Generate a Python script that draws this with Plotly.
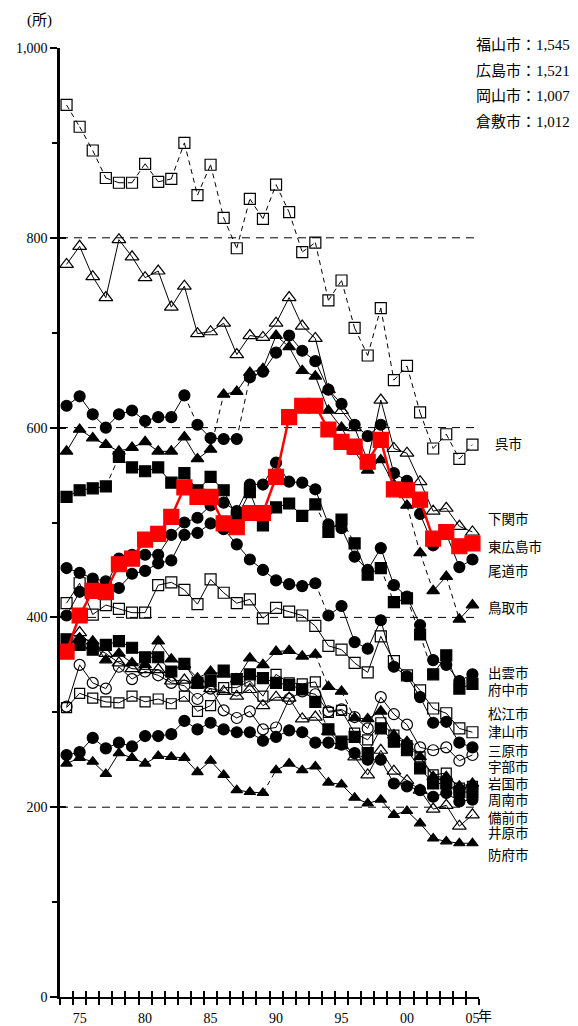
import plotly.graph_objects as go

years = list(range(1974, 2006))

kure = [940, 917, 892, 863, 858, 858, 878, 859, 862, 900, 845, 877, 821, 789, 841, 820,
        856, 827, 785, 795, 734, 755, 705, 676, 726, 650, 665, 616, 578, 593, 567, 582]
shimonoseki = [772, 791, 759, 737, 798, 780, 758, 765, 727, 749, 699, 701, 710, 677, 697, 695,
               710, 737, 707, 694, 640, 618, 600, 565, 629, 578, 573, 543, 512, 515, 496, 490]
higashihiroshima = [364, 402, 428, 427, 456, 462, 482, 488, 506, 537, 527, 527, 499, 495, 510, 510,
                    548, 611, 623, 623, 598, 585, 580, 564, 587, 535, 534, 524, 483, 490, 475, 478]
onomichi = [623, 633, 614, 600, 614, 618, 607, 611, 611, 634, 603, 589, 588, 588, 653, 659,
            679, 697, 681, 670, 640, 625, 603, 591, 603, 552, 544, 509, 476, 488, 453, 461]
tottori = [575, 598, 589, 582, 575, 579, 585, 575, 575, 590, 567, 577, 635, 638, 658, 662,
           697, 685, 660, 654, 618, 600, 575, 555, 566, 540, 518, 468, 428, 443, 398, 413]
fuchu = [527, 534, 536, 538, 569, 558, 554, 558, 542, 552, 534, 548, 534, 505, 532, 497,
         516, 520, 507, 519, 490, 503, 478, 445, 452, 416, 420, 382, 340, 360, 325, 330]
tsuyama = [415, 436, 403, 413, 409, 405, 405, 434, 437, 429, 414, 440, 426, 415, 419, 399,
           410, 406, 402, 391, 370, 366, 352, 342, 380, 354, 339, 323, 304, 299, 283, 279]
mihara = [452, 447, 441, 438, 431, 446, 449, 457, 460, 487, 489, 499, 493, 477, 461, 450,
          439, 435, 433, 436, 402, 412, 374, 367, 397, 348, 338, 316, 289, 290, 268, 263]
izumo = [402, 427, 436, 433, 462, 466, 466, 466, 487, 500, 505, 518, 521, 512, 540, 540,
         563, 543, 542, 535, 498, 494, 464, 450, 473, 434, 422, 392, 355, 350, 333, 340]
shunan = [377, 371, 366, 371, 375, 368, 358, 358, 343, 351, 331, 333, 344, 335, 340, 336,
          331, 329, 324, 311, 282, 269, 274, 257, 283, 269, 260, 241, 225, 225, 216, 216]
iwakuni = [371, 378, 375, 355, 362, 352, 350, 375, 356, 350, 336, 343, 340, 335, 357, 350,
           364, 365, 359, 361, 327, 322, 294, 293, 301, 276, 269, 253, 232, 232, 222, 225]
ube = [306, 350, 331, 325, 348, 335, 343, 339, 331, 328, 314, 325, 302, 294, 301, 282,
       284, 314, 322, 319, 301, 303, 295, 283, 316, 298, 287, 263, 260, 263, 249, 255]
matsue = [305, 320, 315, 311, 310, 317, 311, 314, 309, 317, 301, 307, 326, 326, 333, 317,
          340, 331, 330, 332, 300, 302, 278, 271, 289, 276, 265, 253, 234, 236, 220, 222]
bizen = [372, 384, 370, 362, 352, 346, 345, 345, 333, 334, 329, 325, 322, 317, 324, 307,
         316, 315, 293, 295, 280, 265, 253, 234, 260, 238, 228, 218, 198, 202, 180, 192]
ibara = [255, 258, 273, 262, 268, 264, 275, 275, 277, 291, 282, 289, 282, 279, 279, 270,
         274, 281, 279, 268, 268, 266, 257, 250, 250, 225, 222, 218, 211, 215, 206, 208]
hofu = [246, 252, 248, 235, 257, 252, 246, 254, 253, 252, 237, 249, 234, 218, 216, 215,
        239, 246, 239, 243, 226, 224, 210, 204, 208, 192, 196, 183, 167, 164, 162, 162]

end_labels = ["呉市", "下関市", "東広島市", "尾道市", "鳥取市", "出雲市", "府中市", "松江市",
              "津山市", "三原市", "宇部市", "岩国市", "周南市", "備前市", "井原市", "防府市"]
end_label_y = [582, 503, 474, 448, 409, 341, 323, 298, 279, 259, 242, 224, 207, 189, 172, 149]

big_cities = ["福山市：1,545", "広島市：1,521", "岡山市：1,007", "倉敷市：1,012"]

x_tick_years = [1975, 1980, 1985, 1990, 1995, 2000, 2005]
x_tick_text = ["75", "80", "85", "90", "95", "00", "05"]
y_tick_vals = [0, 200, 400, 600, 800, 1000]
y_tick_text = ["0", "200", "400", "600", "800", "1,000"]
y_minor_vals = [100, 300, 500, 700, 900]
grid_vals = [200, 400, 600, 800]

ALL = "all"
# (values, symbol, marker size, colour, line width, years starting a dashed segment)
styles = [
    (kure, "square-open", 11, "black", 1, ALL),
    (shimonoseki, "triangle-up-open", 12, "black", 1, []),
    (onomichi, "circle", 11, "black", 1, [1983, 1987]),
    (tottori, "triangle-up", 11, "black", 1, [1985, 2000, 2001, 2003]),
    (fuchu, "square", 11, "black", 1, [1977, 1993, 1995, 1998, 2000, 2001]),
    (tsuyama, "square-open", 11, "black", 1, []),
    (mihara, "circle", 11, "black", 1, [1993]),
    (izumo, "circle", 11, "black", 1, []),
    (shunan, "square", 11, "black", 1, [1993]),
    (iwakuni, "triangle-up", 11, "black", 1, [1993, 1995]),
    (ube, "circle-open", 11, "black", 1, []),
    (matsue, "square-open", 10, "black", 1, []),
    (bizen, "triangle-up-open", 12, "black", 1, []),
    (ibara, "circle", 11, "black", 1, []),
    (hofu, "triangle-up", 10, "black", 1, [1989]),
    (higashihiroshima, "square", 15, "red", 2.5, []),
]

fig = go.Figure()
for vals, sym, size, col, lw, dashed in styles:
    sx, sy, dx, dy = [], [], [], []
    for i in range(len(years) - 1):
        is_dash = dashed == ALL or years[i] in dashed
        tx, ty = (dx, dy) if is_dash else (sx, sy)
        tx += [years[i], years[i + 1], None]
        ty += [vals[i], vals[i + 1], None]
    if sx:
        fig.add_trace(go.Scatter(x=sx, y=sy, mode="lines", line=dict(color=col, width=lw),
                                 hoverinfo="skip", showlegend=False))
    if dx:
        fig.add_trace(go.Scatter(x=dx, y=dy, mode="lines",
                                 line=dict(color=col, width=lw, dash="5px,4px"),
                                 hoverinfo="skip", showlegend=False))
    fig.add_trace(go.Scatter(x=years, y=vals, mode="markers",
                             marker=dict(symbol=sym, size=size, color=col,
                                         line=dict(width=1.2, color=col)),
                             hoverinfo="skip", showlegend=False, cliponaxis=False))

# invisible helper traces for the overlay axes (inside tick marks / year labels)
for xa, ya in [("x2", "y"), ("x3", "y"), ("x", "y2")]:
    fig.add_trace(go.Scatter(x=years, y=kure, xaxis=xa, yaxis=ya, mode="markers",
                             marker=dict(opacity=0), hoverinfo="skip", showlegend=False))

boundaries = [years[0] - 0.5 + i for i in range(len(years) + 1)]
xr = [boundaries[0], boundaries[-1]]

serif = "Liberation Serif, Noto Sans CJK JP"
fig.update_layout(
    width=570, height=1018,
    margin=dict(l=52, r=99, t=40, b=29, autoexpand=False),
    paper_bgcolor="white", plot_bgcolor="white",
    font=dict(family=serif, size=14, color="black"),
    xaxis=dict(range=xr, tickvals=boundaries, ticks="outside", ticklen=6, tickwidth=2,
               tickcolor="black", showticklabels=False, showline=True, linewidth=2,
               linecolor="black", showgrid=False, zeroline=False, automargin=False),
    xaxis2=dict(range=xr, overlaying="x", tickvals=boundaries, ticks="inside", ticklen=6,
                tickwidth=2, tickcolor="black", showticklabels=False, showline=False,
                showgrid=False, zeroline=False, automargin=False),
    xaxis3=dict(range=xr, overlaying="x", tickvals=x_tick_years, ticktext=x_tick_text,
                ticks="", showline=False, showgrid=False, zeroline=False, automargin=False,
                ticklabelstandoff=11, tickfont=dict(family=serif, size=14)),
    yaxis=dict(range=[0, 1000], tickvals=y_tick_vals, ticktext=y_tick_text,
               ticks="outside", ticklen=7, tickwidth=2, tickcolor="black",
               showline=True, linewidth=2.5, linecolor="black", showgrid=False,
               zeroline=False, automargin=False, tickfont=dict(family=serif, size=14),
               minor=dict(tickvals=y_minor_vals, ticks="outside", ticklen=5,
                          tickwidth=2, tickcolor="black", showgrid=False)),
    yaxis2=dict(range=[0, 1000], overlaying="y", tickvals=y_tick_vals, ticks="inside",
                ticklen=6, tickwidth=2, tickcolor="black", showticklabels=False,
                showline=False, showgrid=False, zeroline=False, automargin=False),
)

for g in grid_vals:
    fig.add_shape(type="line", xref="x", yref="y", x0=xr[0], x1=xr[1], y0=g, y1=g,
                  line=dict(color="black", width=1, dash="8px,6px"), layer="below")

for lab, yv in zip(end_labels, end_label_y):
    fig.add_annotation(text=lab, x=1.036 if lab == "呉市" else 1.019, y=yv,
                       xref="paper", yref="y", xanchor="left", yanchor="middle",
                       showarrow=False, borderpad=0,
                       font=dict(family="Liberation Sans, Noto Sans CJK JP", size=13.5))

for i, lab in enumerate(big_cities):
    fig.add_annotation(text=lab, x=0.988, y=1.003 - i * 0.0268, xref="paper", yref="paper",
                       xanchor="left", yanchor="middle", showarrow=False,
                       font=dict(family=serif, size=15))

fig.add_annotation(text="(所)", x=-0.048, y=1.0295, xref="paper", yref="paper",
                   xanchor="center", yanchor="middle", showarrow=False,
                   font=dict(family=serif, size=15))
fig.add_annotation(text="年", x=1.0155, y=-0.0195, xref="paper", yref="paper",
                   xanchor="center", yanchor="middle", showarrow=False, borderpad=0,
                   font=dict(family="Liberation Sans, Noto Sans CJK JP", size=14))

fig.write_html("out.html")
